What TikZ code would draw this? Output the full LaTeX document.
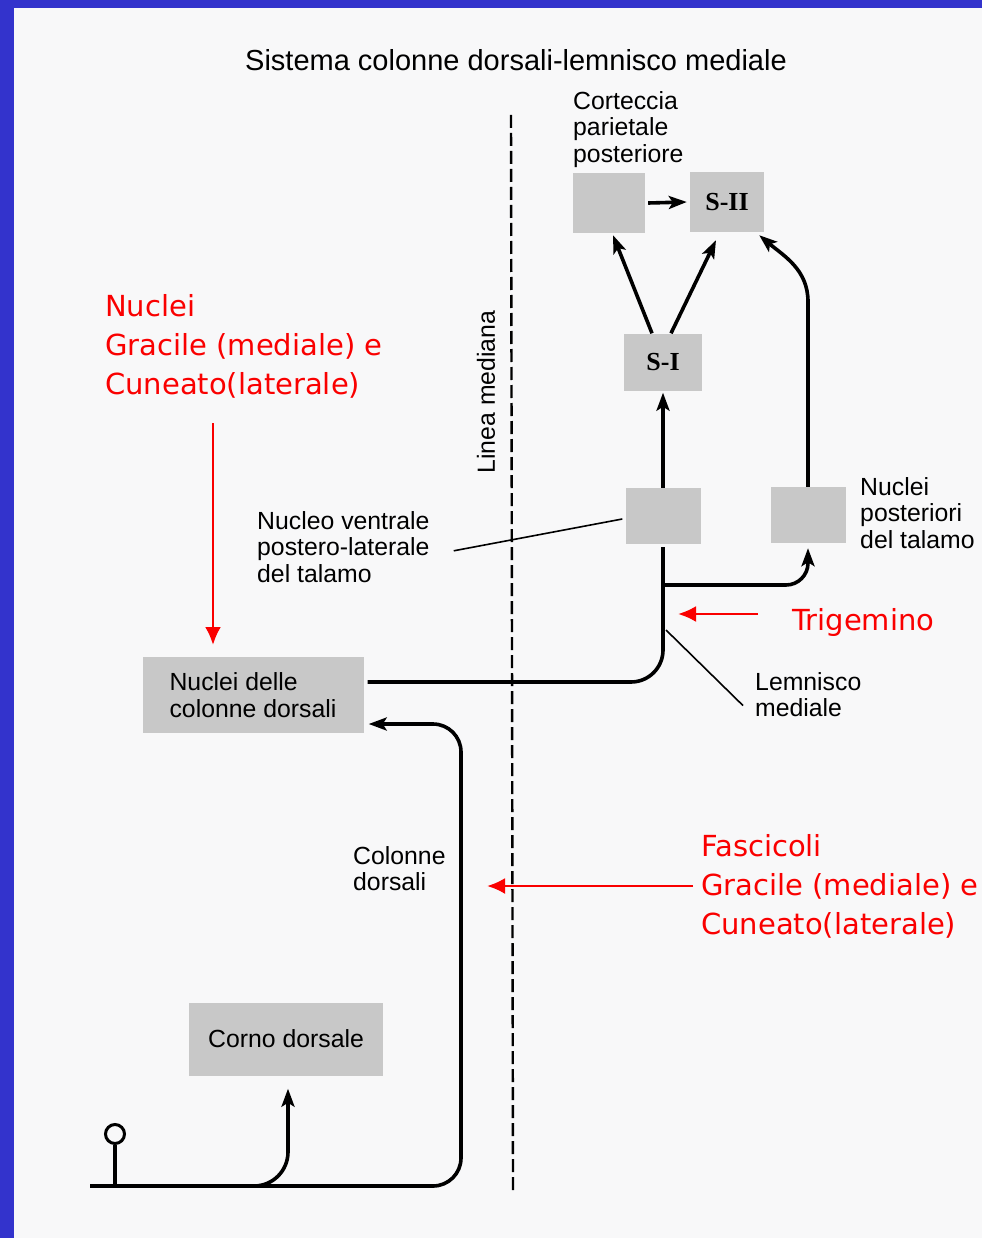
\documentclass[tikz,border=0pt]{standalone}
\usepackage{fontspec}
\setmainfont{Liberation Sans}
\newfontfamily\sfont{Liberation Serif}
\newfontfamily\rfont{DejaVu Sans}
\usetikzlibrary{arrows.meta,positioning}
\definecolor{bordblue}{RGB}{51,51,204}
\definecolor{paper}{RGB}{248,248,249}
\definecolor{boxgray}{RGB}{200,200,200}
\definecolor{notered}{RGB}{250,0,0}

\begin{document}
\begin{tikzpicture}[
  x=1pt, y=-1pt,
  box/.style={fill=boxgray, inner sep=0pt},
  lab/.style={font=\fontsize{24.8}{26.5}\selectfont, align=left, inner sep=0pt},
  slab/.style={font=\sfont\bfseries\fontsize{26}{26}\selectfont},
  rlab/.style={font=\rfont\fontsize{29}{39}\selectfont, text=notered, align=left, inner sep=0pt},
  nib/.style={line width=3.6pt},
  fib/.style={nib, -{Stealth[length=18pt, width=13pt, inset=4pt]}},
  lead/.style={line width=1.6pt},
  redarr/.style={notered, line width=2.6pt, -{Latex[length=18pt, width=16pt]}}
]
  \fill[bordblue] (0,0) rectangle (982,1238);
  \fill[paper] (14,8) rectangle (982,1238);
  \useasboundingbox (0,0) rectangle (982,1238);

  \node[font=\fontsize{29}{30}\selectfont] (title) at (516,60) {Sistema colonne dorsali-lemnisco mediale};

  \coordinate (mtop) at (511,115);
  \coordinate (mbot) at (513,1190);
  \draw[line width=2.4pt, dash pattern=on 13pt off 5pt] (mtop) -- (mbot);
  \node[lab, rotate=90] (mid) at (486,392) {Linea mediana};

  \node[box, minimum width=72pt, minimum height=60pt] (ppc) at (609,203) {};
  \node[box, slab, minimum width=74pt, minimum height=60pt] (s2) at (727,202) {S-II};
  \node[box, slab, minimum width=78pt, minimum height=57pt] (s1) at (663,362) {S-I};
  \node[box, minimum width=75pt, minimum height=56pt] (vpl) at (663,516) {};
  \node[box, minimum width=75pt, minimum height=56pt] (np) at (808,515) {};
  \node[box, lab, minimum width=221pt, minimum height=76pt] (ncd) at (253,695) {Nuclei delle\\colonne dorsali};
  \node[box, lab, minimum width=194pt, minimum height=73pt] (cd) at (286,1039) {Corno dorsale};

  \node[lab, anchor=north west] (ppclab) at (573,91) {Corteccia\\parietale\\posteriore};
  \node[lab, anchor=north west] (nplab) at (860,477) {Nuclei\\posteriori\\del talamo};
  \node[lab, anchor=north west] (vpllab) at (257,511) {Nucleo ventrale\\postero-laterale\\del talamo};
  \node[lab, anchor=north west] (lmlab) at (755,672) {Lemnisco\\mediale};
  \node[lab, anchor=north west] (collab) at (353,846) {Colonne\\dorsali};

  \node[rlab, anchor=north west] (nuclab) at (105,294) {Nuclei\\Gracile (mediale) e\\Cuneato(laterale)};
  \node[rlab, anchor=base west] (trilab) at (792,630) {Trigemino};
  \node[rlab, anchor=north west] (faslab) at (701,834) {Fascicoli\\Gracile (mediale) e\\Cuneato(laterale)};

  \draw[fib] ([shift={(3,0)}]ppc.east) -- ([shift={(-3,0)}]s2.west);
  \draw[fib] ([shift={(-11,0)}]s1.north) -- ([shift={(4,2)}]ppc.south);
  \draw[fib] ([shift={(8,0)}]s1.north) -- ([shift={(-11,8)}]s2.south);
  \draw[fib] (vpl.north) -- ([shift={(0,2)}]s1.south);
  \draw[fib] (np.north) -- ++(0,-185) to[out=90, in=-40] ([shift={(-5,3)}]s2.south east);

  \draw[nib, rounded corners=32] ([shift={(4,-13)}]ncd.east) -| ([shift={(0,3)}]vpl.south);
  \coordinate (tri) at (663,585);
  \draw[fib, rounded corners=22] (tri) -| ([shift={(0,5)}]np.south);

  \coordinate (lm) at (666,630);
  \draw[lead] (lm) -- ([shift={(-12,11)}]lmlab.west);
  \draw[lead] ([shift={(-3,3)}]vpl.west) -- ([shift={(24,4)}]vpllab.east);

  \coordinate (dl) at (90,1186);
  \coordinate (colm) at (461,724);
  \draw[fib, rounded corners=28] (dl) -| (colm) -- ([shift={(5,29)}]ncd.east);
  \node[circle, draw, line width=3pt, minimum size=19pt, inner sep=0pt] (rcp) at (115,1134) {};
  \draw[nib] (rcp.south) -- (rcp.south |- dl);
  \coordinate (cdb) at (220,1186);
  \draw[fib, rounded corners=34] (cdb) -| ([shift={(2,13)}]cd.south);

  \coordinate (tipN) at (213,645);
  \draw[redarr] (tipN |- nuclab.south) ++(0,25) -- (tipN);
  \coordinate (tipT) at (678,614);
  \draw[redarr] (tipT -| trilab.west) ++(-34,0) -- (tipT);
  \coordinate (tipF) at (487,886);
  \draw[redarr] (tipF -| faslab.west) ++(-8,0) -- (tipF);
\end{tikzpicture}
\end{document}
